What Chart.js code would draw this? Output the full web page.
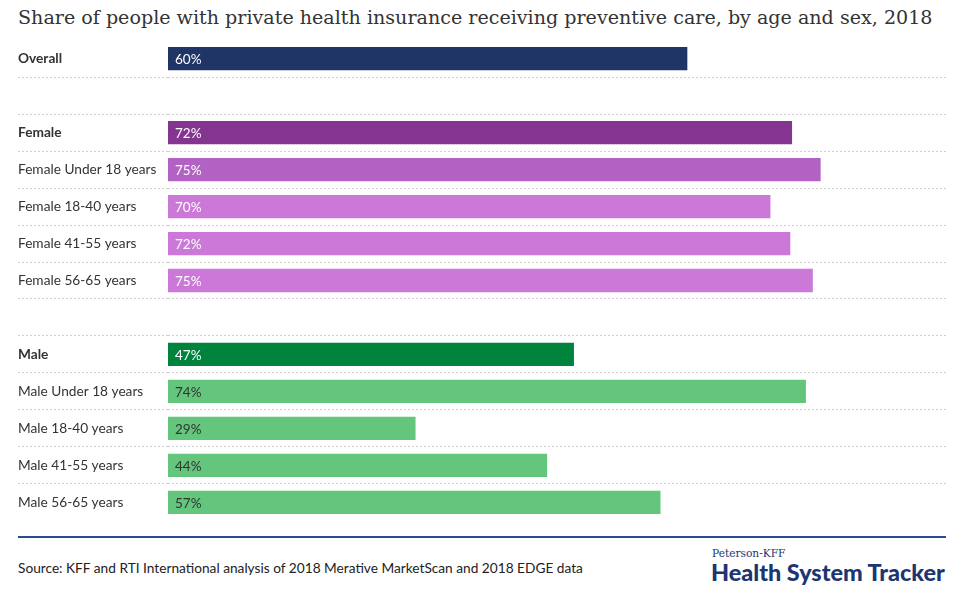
<!DOCTYPE html>
<html lang="en">
<head>
    <meta charset="UTF-8">
    <title>Preventive care by age and sex, 2018</title>
    <script src="https://cdn.jsdelivr.net/npm/chart.js"></script>
    <style>
        body {
            margin: 0;
            background: #fff;
            width: 960px;
            height: 606px;
            position: relative;
            overflow: hidden;
            font-family: Lato, "Open Sans", sans-serif;
            color: #333;
        }
        #title {
            position: absolute;
            left: 18px;
            top: 6px;
            font-family: "DejaVu Serif", serif;
            font-size: 19.1px;
            color: #333;
            white-space: nowrap;
        }
        #chartBox {
            position: absolute;
            left: 0;
            top: 32px;
            width: 960px;
            height: 497px;
        }
        #rule {
            position: absolute;
            left: 18px;
            top: 536px;
            width: 928px;
            border-top: 2px solid #2c4a8f;
        }
        #source {
            position: absolute;
            left: 18px;
            top: 559px;
            font-size: 13.7px;
            color: #222;
        }
        #logo1 {
            position: absolute;
            left: 712px;
            top: 547px;
            font-family: "DejaVu Serif", serif;
            font-size: 10.6px;
            color: #1d3570;
        }
        #logo2 {
            position: absolute;
            left: 711px;
            top: 558px;
            font-weight: 900;
            font-size: 23.4px;
            color: #1d3570;
        }
    </style>
</head>
<body>

<div id="title">Share of people with private health insurance receiving preventive care, by age and sex, 2018</div>
<div id="chartBox"><canvas id="barChart"></canvas></div>
<div id="rule"></div>
<div id="source">Source: KFF and RTI International analysis of 2018 Merative MarketScan and 2018 EDGE data</div>
<div id="logo1">Peterson-KFF</div>
<div id="logo2">Health System Tracker</div>

<script>
    const categories = [
        'Overall', '',
        'Female', 'Female Under 18 years', 'Female 18-40 years', 'Female 41-55 years', 'Female 56-65 years', '',
        'Male', 'Male Under 18 years', 'Male 18-40 years', 'Male 41-55 years', 'Male 56-65 years'
    ];
    const shares = [60, null, 72.1, 75.4, 69.6, 71.9, 74.5, null, 46.9, 73.7, 28.6, 43.8, 56.9];
    const boldRows = ['Overall', 'Female', 'Male'];
    const barColors = [
        '#1f3566', null,
        '#84358f', '#b262c2', '#cb78d9', '#cb78d9', '#cb78d9', null,
        '#00843d', '#63c67c', '#63c67c', '#63c67c', '#63c67c'
    ];
    const labelColors = [
        '#fff', null,
        '#fff', '#fff', '#fff', '#fff', '#fff', null,
        '#fff', '#333', '#333', '#333', '#333'
    ];

    // writes the rounded share inside each bar, near its base
    const barLabels = {
        id: 'barLabels',
        afterDatasetsDraw(chart) {
            const ctx = chart.ctx;
            const meta = chart.getDatasetMeta(0);
            ctx.save();
            ctx.font = '13.5px Lato, "Open Sans", sans-serif';
            ctx.textBaseline = 'middle';
            ctx.textAlign = 'left';
            meta.data.forEach((bar, i) => {
                if (shares[i] == null) return;
                ctx.fillStyle = labelColors[i];
                ctx.fillText(Math.round(shares[i]) + '%', bar.base + 7, bar.y + 1);
            });
            ctx.restore();
        }
    };

    const noLine = 'rgba(0,0,0,0)';

    new Chart(document.getElementById('barChart'), {
        type: 'bar',
        data: {
            labels: categories,
            datasets: [{
                data: shares,
                backgroundColor: barColors,
                categoryPercentage: 1,
                barPercentage: 0.63
            }]
        },
        options: {
            indexAxis: 'y',
            responsive: true,
            maintainAspectRatio: false,
            animation: false,
            layout: { padding: { left: 18, right: 13, top: 0, bottom: 0 } },
            plugins: {
                legend: { display: false },
                tooltip: { enabled: false }
            },
            scales: {
                x: {
                    display: false,
                    min: 0,
                    max: 90
                },
                y: {
                    afterFit(scale) { scale.width = 150; },
                    border: { display: false, dash: [2, 2] },
                    grid: {
                        offset: true,
                        drawTicks: true,
                        tickLength: 150,
                        tickBorderDash: [2, 2],
                        lineWidth: 1,
                        color(c) {
                            return (c.index === undefined || c.index === 0) ? noLine : '#cfcfcf';
                        }
                    },
                    ticks: {
                        crossAlign: 'far',
                        padding: 0,
                        color: '#333',
                        font(c) {
                            const name = categories[c.index];
                            return {
                                family: 'Lato, "Open Sans", sans-serif',
                                size: 13.7,
                                weight: boldRows.includes(name) ? 'bold' : 'normal'
                            };
                        }
                    }
                }
            }
        },
        plugins: [barLabels]
    });
</script>

</body>
</html>
